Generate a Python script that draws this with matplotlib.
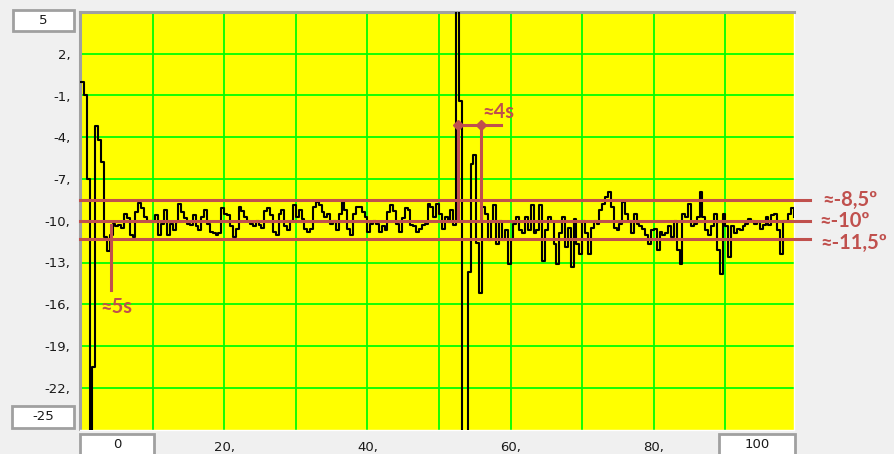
import matplotlib
matplotlib.use("Agg")
import matplotlib.pyplot as plt
from matplotlib.patches import Rectangle
import numpy as np

# ------------------ DADOS ------------------
dt = 0.4  # segundos entre amostras

# transitorio inicial (0 a ~4 s)
inicio = [0.0, -1.0, -7.0, -30.0, -20.5, -3.2, -4.2, -5.8, -11.2, -12.2, -11.0]

# regime antes do pico
ruido_1 = [
    -10.2, -10.4, -10.3, -10.5, -9.5, -9.8, -11.0, -11.2, -9.4, -8.7,
    -9.1, -9.7, -10.0, -10.0, -10.1, -9.6, -11.0, -10.2, -9.2, -11.0,
    -10.2, -10.7, -10.1, -8.8, -9.4, -9.8, -10.2, -10.3, -9.6, -10.4,
    -10.7, -9.7, -9.2, -10.2, -10.8, -10.9, -11.0, -10.9, -9.1, -9.5,
    -9.6, -10.4, -11.2, -10.6, -9.0, -9.3, -9.7, -10.0, -10.2, -10.4,
    -10.0, -10.3, -10.5, -9.3, -9.1, -9.6, -10.8, -11.0, -9.5, -9.25,
    -10.4, -10.7, -10.0, -8.9, -9.7, -9.25, -9.9, -10.6, -10.8, -10.6,
    -9.0, -8.65, -8.9, -9.4, -9.7, -9.5, -10.2, -10.0, -10.7, -9.5,
    -8.65, -9.25, -10.6, -11.0, -9.5, -9.0, -9.0, -9.4, -9.7, -10.8,
    -10.2, -10.0, -10.2, -10.8, -10.4, -10.7, -9.4, -8.9, -9.3, -10.2,
    -10.8, -9.8, -9.1, -9.25, -10.3, -10.4, -10.8, -10.6, -10.3, -10.2,
    -8.8, -9.0, -9.7,
    -8.8, -9.5, -10.6, -9.7, -10.1, -9.25, -10.3,
]

# pico (~52 s)
pico = [8.0, -1.4, -30.0, -30.0, -13.7, -5.9, -5.3, -11.6, -15.2, -9.0]

# regime depois do pico
ruido_2 = [
    -9.5, -11.4, -10.1, -8.9, -11.7, -10.0, -11.4, -10.7, -13.1, -11.4,
    -10.2, -9.7, -10.7, -10.9, -9.7, -10.7, -8.9, -10.9, -10.7, -8.9,
    -12.9, -10.7, -9.7, -10.0, -11.7, -13.1, -10.9, -9.7, -11.9, -10.5,
    -13.3, -9.85, -11.7, -12.4, -10.0, -10.9, -12.4, -10.5, -10.0, -10.2,
    -9.25, -8.8, -8.3, -7.9, -9.0, -10.5,
    -10.7, -10.2, -8.65, -9.5, -10.0, -10.9, -9.5, -10.2, -10.4, -10.6,
    -11.0, -11.65, -10.7, -10.6, -12.1, -10.8, -11.0, -10.9, -10.4, -11.2,
    -10.0, -12.1, -13.1, -9.5, -9.7, -8.8, -10.4, -10.2, -9.7, -7.9,
    -9.7, -10.7, -11.0, -10.4, -9.5, -12.1, -13.8, -9.5, -10.4, -12.6,
    -10.4, -10.9, -10.6, -10.7, -10.4, -10.2, -9.85, -10.0, -10.2, -10.1,
    -10.6, -10.3, -9.7, -10.3, -9.6, -9.5, -10.7, -12.4, -10.0, -10.0,
    -9.5, -9.1, -9.7,
]

y_ticks = [2, -1, -4, -7, -10, -13, -16, -19, -22]
x_grid = [10, 20, 30, 40, 50, 60, 70, 80, 90]
x_rotulos = [20, 40, 60, 80]

niveis = [-8.5, -10.0, -11.3]
rotulos_niveis = ["≈-8,5º", "≈-10º", "≈-11,5º"]

# ------------------ FIGURA ------------------
W, H = 895, 454
VERMELHO = "#c0504d"
fonte_anot = ["Lato", "DejaVu Sans"]
TAM_ANOT = 14.5

sinal = np.array(inicio + ruido_1 + pico + ruido_2)
t = np.arange(len(sinal)) * dt

fig = plt.figure(figsize=(W / 100, H / 100), dpi=100)
fig.patch.set_facecolor("#f0f0f0")

# area do grafico em pixels: x 80..794, y 12..429.5
ax = fig.add_axes([80 / W, 1 - 429.5 / H, 714 / W, 417.5 / H])
ax.set_facecolor("#ffff00")
ax.set_xlim(-0.14, 99.58)
ax.set_ylim(-25, 5)

ax.set_yticks(y_ticks)
ax.set_yticklabels([f"{v}," for v in y_ticks])
ax.set_xticks(x_grid)
ax.set_xticklabels([f"{v}," if v in x_rotulos else "" for v in x_grid])
ax.tick_params(length=0, labelsize=9.5, labelcolor="#1a1a1a")
ax.tick_params(axis="y", pad=7)
ax.tick_params(axis="x", pad=8)
ax.grid(True, color="#00ff00", lw=1.3)
ax.set_axisbelow(True)

for lado in ["left", "top"]:
    ax.spines[lado].set_color("#a0a0a0")
    ax.spines[lado].set_linewidth(2.2)
for lado in ["right", "bottom"]:
    ax.spines[lado].set_color("#ffffff")
    ax.spines[lado].set_linewidth(1)

ax.step(t, sinal, where="post", color="black", lw=1.5, zorder=3)

# ------------------ ANOTACOES ------------------
for nivel in niveis:
    ax.plot([-0.14, 101.8], [nivel, nivel], color=VERMELHO, lw=2.2,
            clip_on=False, zorder=4)
for nivel, rot, xt, yt in zip(niveis, rotulos_niveis,
                              [103.6, 103.2, 103.3], [-8.5, -10.05, -11.6]):
    ax.text(xt, yt, rot, color=VERMELHO, fontsize=TAM_ANOT, fontweight="bold",
            family=fonte_anot, ha="left", va="center", clip_on=False)

# ~5s
ax.plot([4.15, 4.15], [-10.3, -15.0], color=VERMELHO, lw=2.2, zorder=4)
ax.text(2.65, -16.2, "≈5s", color=VERMELHO, fontsize=TAM_ANOT, fontweight="bold",
        family=fonte_anot, ha="left", va="center")

# ~4s
ax.plot([52.6, 52.6], [-3.1, -10.0], color=VERMELHO, lw=2.2, zorder=4)
ax.plot([55.85, 55.85], [-3.1, -10.0], color=VERMELHO, lw=2.2, zorder=4)
ax.plot([52.5, 58.6], [-3.1, -3.1], color=VERMELHO, lw=2.2, zorder=4)
ax.plot([52.6, 55.85], [-3.1, -3.1], ls="none", marker="D", ms=5,
        color=VERMELHO, zorder=5)
ax.text(56.0, -2.2, "≈4s", color=VERMELHO, fontsize=TAM_ANOT, fontweight="bold",
        family=fonte_anot, ha="left", va="center")


# ------------------ CAIXAS DE LIMITE ------------------
def caixa(x0, y0, x1, y1, texto):
    fig.add_artist(Rectangle((x0 / W, 1 - y1 / H), (x1 - x0) / W, (y1 - y0) / H,
                             transform=fig.transFigure, facecolor="white",
                             edgecolor="#a0a0a0", lw=2))
    fig.text((x0 + x1) / 2 / W, 1 - (y0 + y1) / 2 / H, texto,
             ha="center", va="center", fontsize=9.5, color="#1a1a1a")


caixa(13, 10, 74, 31, "5")
caixa(12, 406, 74, 428, "-25")
caixa(80, 434, 154, 456, "0")
caixa(719, 434, 795, 456, "100")

fig.savefig("out.png", dpi=100, facecolor=fig.get_facecolor())
